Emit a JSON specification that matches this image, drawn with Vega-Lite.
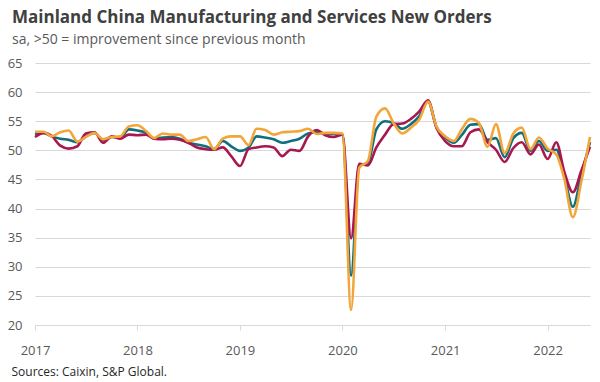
{
  "$schema": "https://vega.github.io/schema/vega-lite/v6.json",
  "autosize": {"type": "none"},
  "width": 555,
  "height": 262,
  "padding": {"left": 35, "top": 63, "right": 10, "bottom": 57},
  "background": "white",
  "title": {
    "text": "Mainland China Manufacturing and Services New Orders",
    "subtitle": "sa, >50 = improvement since previous month",
    "anchor": "start",
    "frame": "group",
    "dx": -23,
    "offset": 9,
    "font": "Open Sans",
    "fontSize": 17,
    "fontWeight": "bold",
    "color": "#404040",
    "subtitleFont": "Open Sans",
    "subtitleFontSize": 14,
    "subtitleColor": "#595959",
    "subtitlePadding": 6
  },
  "config": {
    "view": {"stroke": null},
    "font": "Open Sans"
  },
  "data": {
    "values": [
      {"date": "2017-01-01", "Composite": 52.8, "Manufacturing": 52.3, "Services": 53.2},
      {"date": "2017-02-01", "Composite": 53.0, "Manufacturing": 53.0, "Services": 53.2},
      {"date": "2017-03-01", "Composite": 52.4, "Manufacturing": 52.5, "Services": 52.4},
      {"date": "2017-04-01", "Composite": 52.0, "Manufacturing": 50.8, "Services": 53.1},
      {"date": "2017-05-01", "Composite": 51.8, "Manufacturing": 50.3, "Services": 53.4},
      {"date": "2017-06-01", "Composite": 51.4, "Manufacturing": 50.7, "Services": 51.5},
      {"date": "2017-07-01", "Composite": 52.4, "Manufacturing": 52.9, "Services": 52.3},
      {"date": "2017-08-01", "Composite": 53.0, "Manufacturing": 53.1, "Services": 53.0},
      {"date": "2017-09-01", "Composite": 51.7, "Manufacturing": 51.3, "Services": 51.9},
      {"date": "2017-10-01", "Composite": 52.3, "Manufacturing": 52.4, "Services": 52.3},
      {"date": "2017-11-01", "Composite": 52.2, "Manufacturing": 52.0, "Services": 52.4},
      {"date": "2017-12-01", "Composite": 53.6, "Manufacturing": 52.7, "Services": 54.1},
      {"date": "2018-01-01", "Composite": 53.4, "Manufacturing": 52.6, "Services": 54.3},
      {"date": "2018-02-01", "Composite": 53.0, "Manufacturing": 52.7, "Services": 53.3},
      {"date": "2018-03-01", "Composite": 52.0, "Manufacturing": 52.0, "Services": 52.1},
      {"date": "2018-04-01", "Composite": 52.2, "Manufacturing": 51.9, "Services": 52.9},
      {"date": "2018-05-01", "Composite": 52.3, "Manufacturing": 52.0, "Services": 52.7},
      {"date": "2018-06-01", "Composite": 52.0, "Manufacturing": 51.8, "Services": 52.7},
      {"date": "2018-07-01", "Composite": 51.3, "Manufacturing": 51.3, "Services": 51.6},
      {"date": "2018-08-01", "Composite": 51.0, "Manufacturing": 50.5, "Services": 51.9},
      {"date": "2018-09-01", "Composite": 50.7, "Manufacturing": 50.2, "Services": 52.3},
      {"date": "2018-10-01", "Composite": 50.2, "Manufacturing": 50.1, "Services": 50.2},
      {"date": "2018-11-01", "Composite": 51.6, "Manufacturing": 50.5, "Services": 52.0},
      {"date": "2018-12-01", "Composite": 50.7, "Manufacturing": 49.0, "Services": 52.4},
      {"date": "2019-01-01", "Composite": 49.9, "Manufacturing": 47.3, "Services": 52.4},
      {"date": "2019-02-01", "Composite": 50.5, "Manufacturing": 50.2, "Services": 50.9},
      {"date": "2019-03-01", "Composite": 52.4, "Manufacturing": 50.5, "Services": 53.7},
      {"date": "2019-04-01", "Composite": 52.2, "Manufacturing": 50.7, "Services": 53.5},
      {"date": "2019-05-01", "Composite": 51.9, "Manufacturing": 50.5, "Services": 52.7},
      {"date": "2019-06-01", "Composite": 51.3, "Manufacturing": 49.0, "Services": 53.1},
      {"date": "2019-07-01", "Composite": 51.6, "Manufacturing": 50.1, "Services": 53.2},
      {"date": "2019-08-01", "Composite": 52.0, "Manufacturing": 49.9, "Services": 53.3},
      {"date": "2019-09-01", "Composite": 52.9, "Manufacturing": 52.4, "Services": 53.7},
      {"date": "2019-10-01", "Composite": 53.1, "Manufacturing": 53.5, "Services": 52.8},
      {"date": "2019-11-01", "Composite": 52.9, "Manufacturing": 52.6, "Services": 53.0},
      {"date": "2019-12-01", "Composite": 52.8, "Manufacturing": 52.3, "Services": 53.0},
      {"date": "2020-01-01", "Composite": 52.8, "Manufacturing": 52.7, "Services": 52.9},
      {"date": "2020-02-01", "Composite": 28.5, "Manufacturing": 34.9, "Services": 22.6},
      {"date": "2020-03-01", "Composite": 47.4, "Manufacturing": 47.7, "Services": 47.0},
      {"date": "2020-04-01", "Composite": 47.8, "Manufacturing": 47.4, "Services": 48.2},
      {"date": "2020-05-01", "Composite": 53.6, "Manufacturing": 50.5, "Services": 55.8},
      {"date": "2020-06-01", "Composite": 55.0, "Manufacturing": 52.7, "Services": 57.2},
      {"date": "2020-07-01", "Composite": 54.7, "Manufacturing": 54.5, "Services": 54.7},
      {"date": "2020-08-01", "Composite": 53.7, "Manufacturing": 54.6, "Services": 52.9},
      {"date": "2020-09-01", "Composite": 54.5, "Manufacturing": 55.4, "Services": 53.9},
      {"date": "2020-10-01", "Composite": 55.9, "Manufacturing": 56.7, "Services": 55.3},
      {"date": "2020-11-01", "Composite": 58.4, "Manufacturing": 58.6, "Services": 58.4},
      {"date": "2020-12-01", "Composite": 54.0, "Manufacturing": 53.9, "Services": 54.1},
      {"date": "2021-01-01", "Composite": 52.2, "Manufacturing": 51.6, "Services": 52.4},
      {"date": "2021-02-01", "Composite": 51.3, "Manufacturing": 50.7, "Services": 51.6},
      {"date": "2021-03-01", "Composite": 52.6, "Manufacturing": 50.7, "Services": 53.6},
      {"date": "2021-04-01", "Composite": 54.4, "Manufacturing": 53.1, "Services": 55.4},
      {"date": "2021-05-01", "Composite": 54.5, "Manufacturing": 53.6, "Services": 54.7},
      {"date": "2021-06-01", "Composite": 51.8, "Manufacturing": 51.4, "Services": 50.6},
      {"date": "2021-07-01", "Composite": 52.1, "Manufacturing": 50.1, "Services": 54.5},
      {"date": "2021-08-01", "Composite": 48.8, "Manufacturing": 48.0, "Services": 49.5},
      {"date": "2021-09-01", "Composite": 52.1, "Manufacturing": 50.4, "Services": 52.9},
      {"date": "2021-10-01", "Composite": 53.0, "Manufacturing": 51.4, "Services": 53.9},
      {"date": "2021-11-01", "Composite": 49.9, "Manufacturing": 49.3, "Services": 50.2},
      {"date": "2021-12-01", "Composite": 51.6, "Manufacturing": 51.0, "Services": 52.2},
      {"date": "2022-01-01", "Composite": 49.9, "Manufacturing": 48.5, "Services": 50.3},
      {"date": "2022-02-01", "Composite": 50.1, "Manufacturing": 51.4, "Services": 49.3},
      {"date": "2022-03-01", "Composite": 45.7, "Manufacturing": 46.4, "Services": 45.2},
      {"date": "2022-04-01", "Composite": 40.3, "Manufacturing": 42.8, "Services": 38.5},
      {"date": "2022-05-01", "Composite": 45.7, "Manufacturing": 46.5, "Services": 44.6},
      {"date": "2022-06-01", "Composite": 51.4, "Manufacturing": 50.6, "Services": 52.3}
    ]
  },
  "transform": [
    {"fold": ["Composite", "Manufacturing", "Services"], "as": ["series", "value"]}
  ],
  "mark": {"type": "line", "interpolate": "monotone", "strokeWidth": 2.6, "strokeJoin": "round"},
  "encoding": {
    "x": {
      "field": "date",
      "type": "temporal",
      "scale": {
        "type": "utc",
        "domain": [{"year": 2017, "month": 1, "date": 1, "utc": true}, {"year": 2022, "month": 6, "date": 1, "utc": true}]
      },
      "axis": {
        "values": [
          {"year": 2017, "month": 1, "date": 1, "utc": true},
          {"year": 2018, "month": 1, "date": 1, "utc": true},
          {"year": 2019, "month": 1, "date": 1, "utc": true},
          {"year": 2020, "month": 1, "date": 1, "utc": true},
          {"year": 2021, "month": 1, "date": 1, "utc": true},
          {"year": 2022, "month": 1, "date": 1, "utc": true}
        ],
        "format": "%Y",
        "formatType": "utc",
        "grid": false,
        "domain": true,
        "domainColor": "#d9d9d9",
        "domainWidth": 1,
        "ticks": true,
        "tickColor": "#d9d9d9",
        "tickSize": 5,
        "labelFont": "Open Sans",
        "labelFontSize": 13,
        "labelColor": "#595959",
        "labelPadding": 14,
        "labelAlign": "center",
        "labelFlush": false,
        "title": "Sources: Caixin, S&P Global.",
        "titleFont": "Open Sans",
        "titleFontSize": 12,
        "titleFontWeight": "normal",
        "titleColor": "#262626",
        "titleAnchor": "start",
        "titleAlign": "left",
        "titleX": -24,
        "titleY": 46,
        "titleBaseline": "middle"
      }
    },
    "y": {
      "field": "value",
      "type": "quantitative",
      "scale": {"domain": [20, 65], "nice": false, "zero": false},
      "axis": {
        "values": [20, 25, 30, 35, 40, 45, 50, 55, 60, 65],
        "domain": false,
        "ticks": false,
        "grid": true,
        "gridColor": "#d9d9d9",
        "gridWidth": 1,
        "labelFont": "Open Sans",
        "labelFontSize": 13,
        "labelColor": "#595959",
        "labelPadding": 13,
        "title": null
      }
    },
    "color": {
      "field": "series",
      "type": "nominal",
      "scale": {
        "domain": ["Composite", "Manufacturing", "Services"],
        "range": ["#0f6f7d", "#a8174f", "#f2a63a"]
      },
      "legend": null
    },
    "order": {"field": "series"}
  }
}
